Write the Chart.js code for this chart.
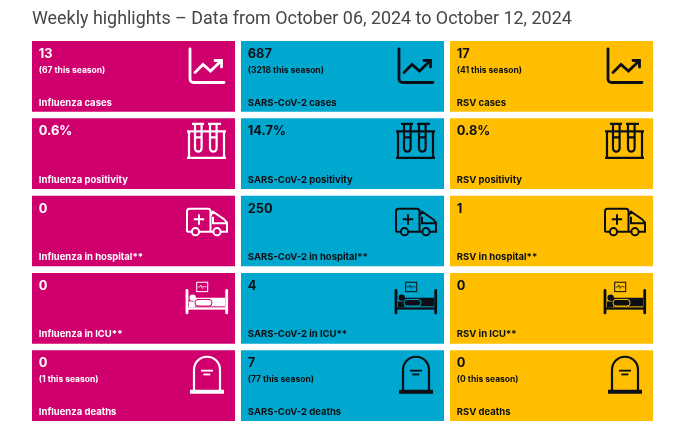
<!DOCTYPE html>
<html>
<head>
<meta charset="utf-8">
<title>Weekly highlights</title>
<script src="https://cdn.jsdelivr.net/npm/chart.js@4"></script>
<style>
  html, body { margin: 0; padding: 0; background: #fff; }
  canvas { display: block; }
</style>
</head>
<body>
<canvas id="highlights" width="680" height="443"></canvas>
<script>
// Values
const titleText = 'Weekly highlights – Data from October 06, 2024 to October 12, 2024';
const viruses = ['Influenza', 'SARS-CoV-2', 'RSV'];
const measures = ['cases', 'positivity', 'in hospital**', 'in ICU**', 'deaths'];
const influenzaValues = ['13', '0.6%', '0', '0', '0'];
const influenzaSeason = ['67', null, null, null, '1'];
const sarsValues = ['687', '14.7%', '250', '4', '7'];
const sarsSeason = ['3218', null, null, null, '77'];
const rsvValues = ['17', '0.8%', '1', '0', '0'];
const rsvSeason = ['41', null, null, null, '0'];

const allValues = [influenzaValues, sarsValues, rsvValues];
const allSeason = [influenzaSeason, sarsSeason, rsvSeason];
const tileColors = ['#CF006E', '#00A8D0', '#FFBF00'];
const inkColors = ['#ffffff', '#0b0f14', '#0b0f14'];
const FONT = 'Inter, "Noto Sans", sans-serif';
const TILE_SPAN = 0.915;

// Icons, drawn with the tile's top left corner as origin
function trendIcon(ctx) {
  ctx.lineWidth = 2.8;
  ctx.lineCap = 'round';
  ctx.beginPath();
  ctx.moveTo(158, 8);
  ctx.lineTo(158, 37.5);
  ctx.quadraticCurveTo(158, 41.5, 162, 41.5);
  ctx.lineTo(192, 41.5);
  ctx.stroke();
  ctx.beginPath();
  ctx.moveTo(163, 31.5);
  ctx.lineTo(171, 23.5);
  ctx.lineTo(178.5, 30);
  ctx.lineTo(189.5, 19.5);
  ctx.moveTo(183, 19.5);
  ctx.lineTo(189.5, 19.5);
  ctx.lineTo(189.5, 26);
  ctx.stroke();
}

function tubesIcon(ctx) {
  ctx.lineWidth = 2.2;
  ctx.beginPath();
  // rack
  ctx.moveTo(155, 13); ctx.lineTo(194, 13);
  ctx.moveTo(157, 13); ctx.lineTo(157, 39);
  ctx.moveTo(192, 13); ctx.lineTo(192, 39);
  ctx.moveTo(155, 39.5); ctx.lineTo(194, 39.5);
  // caps
  ctx.moveTo(160, 5.5); ctx.lineTo(172, 5.5);
  ctx.moveTo(176, 5.5); ctx.lineTo(189, 5.5);
  // tubes
  ctx.moveTo(163, 5.5); ctx.lineTo(163, 30);
  ctx.arc(166.3, 30, 3.3, Math.PI, 0, true);
  ctx.lineTo(169.6, 5.5);
  ctx.moveTo(178, 5.5); ctx.lineTo(178, 30);
  ctx.arc(181.3, 30, 3.3, Math.PI, 0, true);
  ctx.lineTo(184.6, 5.5);
  // liquid level
  ctx.moveTo(163, 19); ctx.lineTo(169.6, 19);
  ctx.moveTo(178, 19); ctx.lineTo(184.6, 19);
  ctx.stroke();
}

function ambulanceIcon(ctx) {
  ctx.lineWidth = 2;
  ctx.beginPath();
  // box and cab
  ctx.moveTo(159.5, 36);
  ctx.lineTo(156, 36);
  ctx.quadraticCurveTo(155, 36, 155, 35);
  ctx.lineTo(155, 15.5);
  ctx.quadraticCurveTo(155, 13, 157.5, 13);
  ctx.lineTo(176, 13);
  ctx.quadraticCurveTo(178.5, 13, 178.5, 15.5);
  ctx.lineTo(178.5, 36);
  ctx.lineTo(167.5, 36);
  ctx.moveTo(178.5, 36);
  ctx.lineTo(181, 36);
  ctx.moveTo(189, 36);
  ctx.lineTo(195, 36);
  ctx.lineTo(195, 27);
  ctx.lineTo(192, 23.5);
  ctx.lineTo(181, 16);
  ctx.lineTo(178.5, 20);
  // window
  ctx.moveTo(181, 21); ctx.lineTo(181, 27.5); ctx.lineTo(194, 27.5);
  // plus
  ctx.moveTo(167, 18.5); ctx.lineTo(167, 29);
  ctx.moveTo(161.8, 23.7); ctx.lineTo(172.2, 23.7);
  ctx.stroke();
  ctx.beginPath();
  ctx.arc(163.5, 36, 3.6, 0, Math.PI * 2);
  ctx.stroke();
  ctx.beginPath();
  ctx.arc(185, 36, 3.6, 0, Math.PI * 2);
  ctx.stroke();
}

function bedIcon(ctx, paper) {
  ctx.lineCap = 'round';
  ctx.lineWidth = 2.8;
  ctx.beginPath();
  ctx.moveTo(155, 17.5); ctx.lineTo(155, 40);
  ctx.moveTo(194.7, 17.5); ctx.lineTo(194.7, 40);
  ctx.stroke();
  ctx.lineCap = 'butt';
  // rail
  ctx.fillRect(155, 34.4, 40, 2.3);
  // body
  ctx.fillRect(157, 28.5, 6, 5.9);
  ctx.fillRect(162, 24.8, 31, 8.6);
  ctx.beginPath();
  ctx.arc(160.7, 24.7, 3.2, 0, Math.PI * 2);
  ctx.fill();
  // blanket
  ctx.strokeStyle = paper;
  ctx.lineWidth = 1;
  ctx.beginPath();
  ctx.roundRect(163, 26.5, 17, 6.6, 3);
  ctx.stroke();
  ctx.strokeStyle = ctx.fillStyle;
  // monitor
  ctx.lineWidth = 1;
  ctx.strokeRect(164.7, 9.3, 11, 9.4);
  ctx.lineWidth = 0.7;
  ctx.beginPath();
  ctx.moveTo(165.7, 14); ctx.lineTo(168, 14); ctx.lineTo(169, 12);
  ctx.lineTo(170.3, 15.5); ctx.lineTo(171.3, 13.5); ctx.lineTo(174.7, 14);
  ctx.stroke();
}

function graveIcon(ctx) {
  ctx.lineWidth = 2.2;
  ctx.beginPath();
  ctx.moveTo(162, 40);
  ctx.lineTo(162, 19.5);
  ctx.arc(175, 19.5, 13, Math.PI, 0);
  ctx.lineTo(188, 40);
  ctx.stroke();
  ctx.fillRect(158, 39.5, 34, 4);
  ctx.fillRect(169, 19.5, 12, 1.8);
  ctx.fillRect(171.3, 23.3, 7, 1.8);
}

const rowIcons = [trendIcon, tubesIcon, ambulanceIcon, bedIcon, graveIcon];

// Title, tile texts and icons on top of the bars
const tileContent = {
  id: 'tileContent',
  afterDatasetsDraw(chart) {
    const { ctx, scales } = chart;
    ctx.save();
    ctx.textAlign = 'left';
    ctx.textBaseline = 'alphabetic';
    ctx.fillStyle = '#444648';
    ctx.font = '400 17.9px Roboto, ' + FONT;
    ctx.fillText(titleText, 32, 23.5);

    viruses.forEach((virus, c) => {
      const meta = chart.getDatasetMeta(c);
      measures.forEach((measure, r) => {
        const bar = meta.data[r];
        const left = bar.x - bar.width / 2;
        const top = scales.y.getPixelForValue(r);
        const ink = inkColors[c];

        ctx.fillStyle = ink;
        ctx.font = '700 12.8px ' + FONT;
        ctx.fillText(allValues[c][r], left + 6.8, top + 17);
        if (allSeason[c][r] !== null) {
          ctx.font = '700 8.5px ' + FONT;
          ctx.fillText('(' + allSeason[c][r] + ' this season)', left + 6.8, top + 32);
        }
        ctx.font = '700 9.5px ' + FONT;
        ctx.fillText(virus + ' ' + measure, left + 6.8, top + 64.5);

        ctx.save();
        ctx.translate(left, top);
        ctx.strokeStyle = ink;
        ctx.fillStyle = ink;
        rowIcons[r](ctx, tileColors[c]);
        ctx.restore();
      });
    });
    ctx.restore();
  }
};

const datasets = viruses.map((virus, c) => ({
  label: virus,
  data: measures.map((measure, r) => ({ x: virus, y: [r, r + TILE_SPAN] })),
  backgroundColor: tileColors[c],
  borderWidth: 0,
  grouped: false,
  barPercentage: 203 / 209,
  categoryPercentage: 1
}));

new Chart(document.getElementById('highlights').getContext('2d'), {
  type: 'bar',
  data: { labels: viruses, datasets: datasets },
  options: {
    responsive: false,
    animation: false,
    devicePixelRatio: 1,
    layout: { padding: { left: 29, right: 24, top: 41, bottom: 22 } },
    plugins: {
      legend: { display: false },
      tooltip: { enabled: false }
    },
    scales: {
      x: { type: 'category', display: false },
      y: { type: 'linear', display: false, reverse: true, min: 0, max: 4 + TILE_SPAN }
    }
  },
  plugins: [tileContent]
});
</script>
</body>
</html>
